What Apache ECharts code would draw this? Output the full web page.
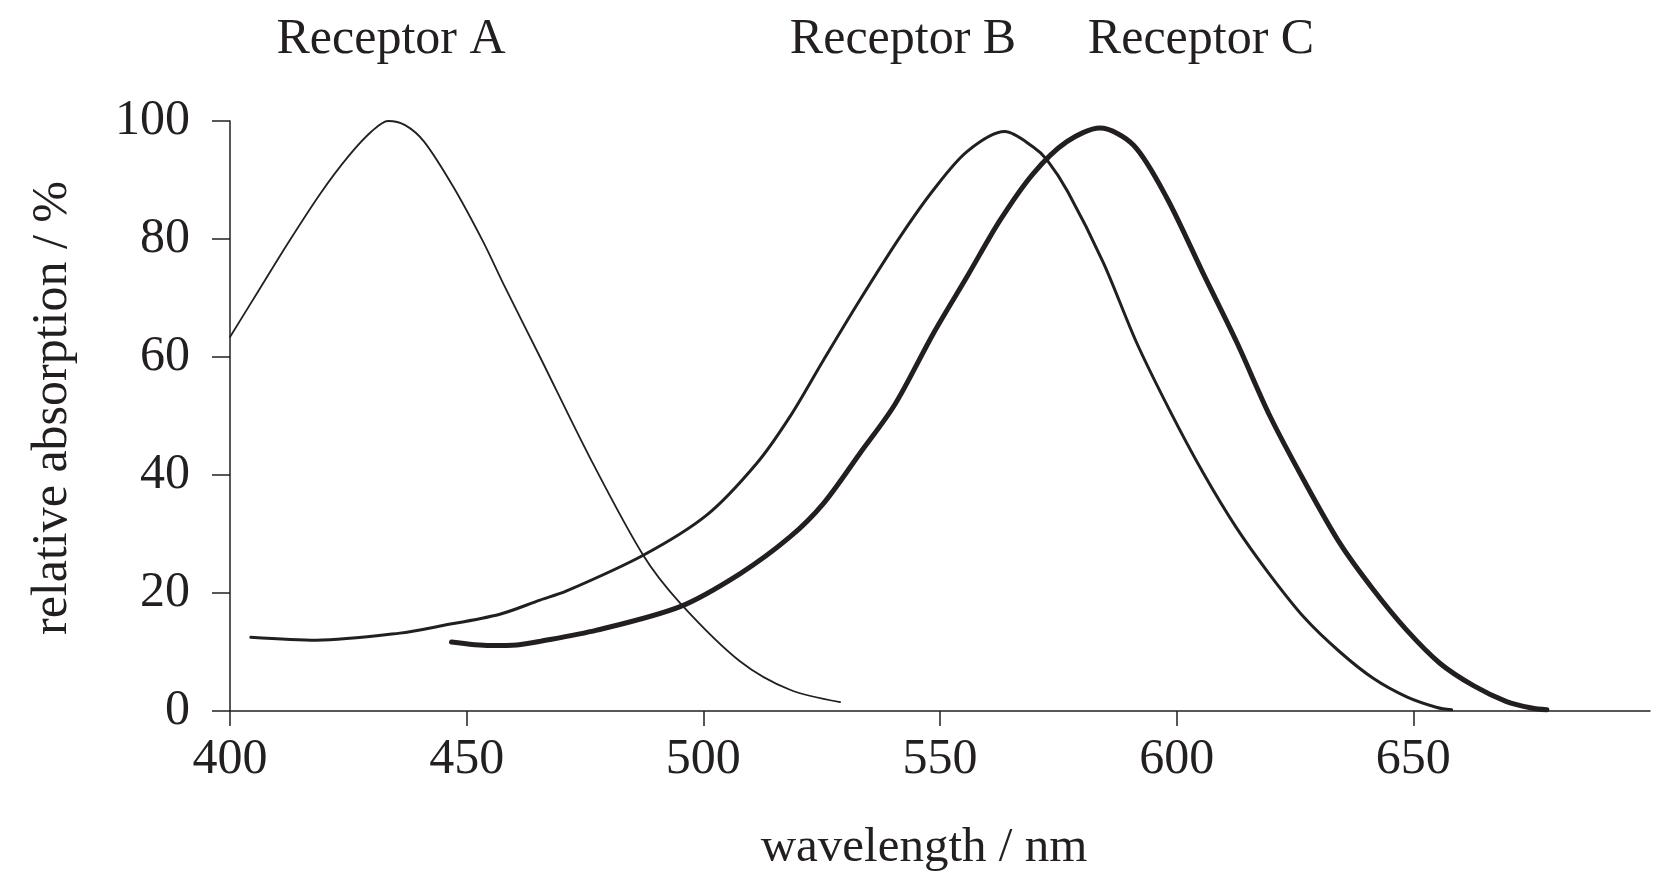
<!DOCTYPE html>
<html>
<head>
<meta charset="utf-8">
<script src="https://cdn.jsdelivr.net/npm/echarts@6/dist/echarts.min.js"></script>
<style>
  html, body { margin: 0; padding: 0; background: #fff; }
  #grafica { width: 1668px; height: 889px; }
</style>
</head>
<body>
<div id="grafica"></div>
<script>
// valores (nm, % absorcion relativa)
const nmA  = [400, 406, 412, 419, 425, 430, 433.4, 437, 441, 447.2, 453.5, 458, 465.5, 476, 487.3, 495.1, 507.8, 518.3, 528.9];
const absA = [63.4, 71.2, 79, 87.6, 94, 98.3, 100, 99.3, 96.5, 88.8, 79.5, 72, 60, 43, 26.4, 18.3, 8.4, 3.6, 1.5];

const nmB  = [404.4, 418.3, 435.9, 444.4, 457, 465.5, 471, 487.3, 500.7, 511.3, 518.3, 525.4, 533.1, 541.6, 548.6, 555.7, 563.7, 569.7, 572.6, 577, 584.5, 591.5, 598.5, 605.5, 612.5, 619.5, 627, 634.5, 641.6, 648.6, 655, 658.1];
const absB = [12.5, 12.0, 13.2, 14.4, 16.4, 18.8, 20.3, 26.4, 33.2, 42.0, 49.9, 59.5, 69.7, 80.4, 88.3, 94.8, 98.2, 95.6, 93.4, 88, 76, 62.5, 51, 40.5, 31.2, 23.3, 15.8, 10, 5.5, 2.4, 0.6, 0.2];

const nmC  = [446.8, 455, 460.6, 465.5, 477.5, 495.1, 507.8, 518.3, 525.4, 533.1, 540.5, 548.6, 555.7, 562.7, 569.7, 576.8, 583.8, 590.9, 597.9, 605.7, 612.7, 619.7, 626.8, 634.5, 641.6, 648.6, 655.6, 662.7, 669.7, 675, 678.2];
const absC = [11.7, 11.1, 11.2, 11.8, 13.7, 17.7, 23.3, 29.5, 35.2, 43.7, 52, 64.0, 73.6, 83.2, 91.1, 96.5, 98.8, 95.9, 87, 74, 62.5, 50, 39.2, 28.4, 20.5, 13.7, 8.1, 4.3, 1.6, 0.5, 0.2];

const xTicks = [400, 450, 500, 550, 600, 650];
const yTicks = [0, 20, 40, 60, 80, 100];
const receptores = ['Receptor A', 'Receptor B', 'Receptor C'];

const tinta = '#231f20';
const fuente = '"Liberation Serif", "Times New Roman", serif';

function juntar(xs, ys) {
  return xs.map((x, i) => [x, ys[i]]);
}

var dom = document.getElementById('grafica');
var myChart = echarts.init(dom, null, { renderer: 'canvas' });

function serie(nombre, datos, ancho) {
  return {
    name: nombre,
    type: 'line',
    data: datos,
    showSymbol: false,
    smooth: 0.3,
    silent: true,
    lineStyle: { color: tinta, width: ancho, cap: 'round', join: 'round' }
  };
}

var option = {
  animation: false,
  backgroundColor: '#fff',
  grid: { left: 230, right: 18, top: 121, bottom: 178 },
  xAxis: {
    type: 'value',
    min: 400,
    max: 700,
    interval: 50,
    splitLine: { show: false },
    axisLine: { lineStyle: { color: tinta, width: 1.5 } },
    axisTick: { length: 15, customValues: xTicks, lineStyle: { color: tinta, width: 1.5 } },
    axisLabel: {
      customValues: xTicks,
      margin: 24,
      color: tinta,
      fontFamily: fuente,
      fontSize: 50
    }
  },
  yAxis: {
    type: 'value',
    min: 0,
    max: 100,
    interval: 20,
    splitLine: { show: false },
    axisLine: { show: true, lineStyle: { color: tinta, width: 1.5 } },
    axisTick: { show: true, length: 18, customValues: yTicks, lineStyle: { color: tinta, width: 1.5 } },
    axisLabel: {
      customValues: yTicks,
      margin: 40,
      color: tinta,
      fontFamily: fuente,
      fontSize: 50
    }
  },
  graphic: [
    { type: 'text', x: 391, y: 40, style: { text: receptores[0], font: '50px ' + fuente, fill: tinta, textAlign: 'center', textVerticalAlign: 'middle' } },
    { type: 'text', x: 903, y: 40, style: { text: receptores[1], font: '50px ' + fuente, fill: tinta, textAlign: 'center', textVerticalAlign: 'middle' } },
    { type: 'text', x: 1201, y: 40, style: { text: receptores[2], font: '50px ' + fuente, fill: tinta, textAlign: 'center', textVerticalAlign: 'middle' } },
    { type: 'text', x: 924, y: 848, style: { text: 'wavelength / nm', font: '49px ' + fuente, fill: tinta, textAlign: 'center', textVerticalAlign: 'middle' } },
    { type: 'text', x: 53, y: 408, rotation: Math.PI / 2, style: { text: 'relative absorption / %', font: '50px ' + fuente, fill: tinta, textAlign: 'center', textVerticalAlign: 'middle' } }
  ],
  series: [
    serie(receptores[0], juntar(nmA, absA), 1.8),
    serie(receptores[1], juntar(nmB, absB), 3),
    serie(receptores[2], juntar(nmC, absC), 5)
  ]
};

myChart.setOption(option);
window.addEventListener('resize', myChart.resize);
</script>
</body>
</html>
